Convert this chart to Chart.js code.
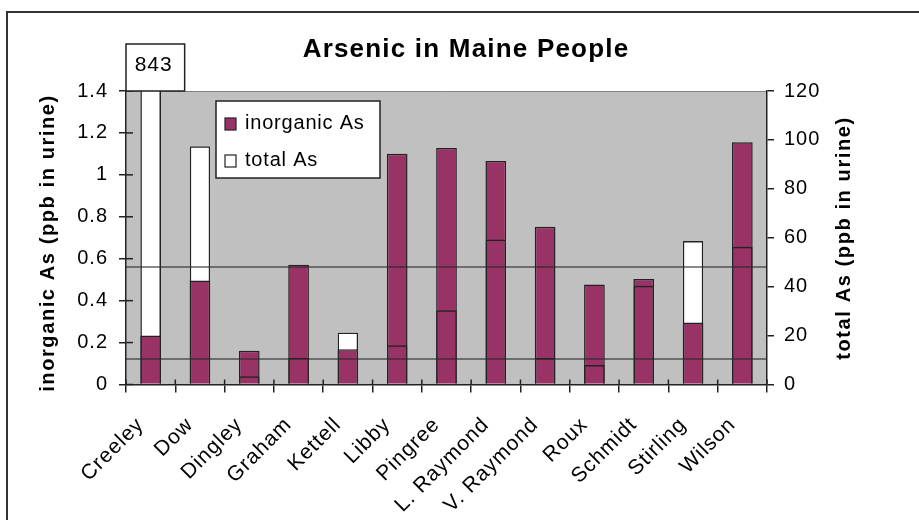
<!DOCTYPE html>
<html>
<head>
<meta charset="utf-8">
<script src="https://cdn.jsdelivr.net/npm/chart.js@4.4.1/dist/chart.umd.min.js"></script>
<style>
  html, body { margin: 0; padding: 0; background: #fff; overflow: hidden; }
  #wrap { position: relative; width: 919px; height: 520px; }
  #frame { position: absolute; left: 6px; top: 11px; width: 940px; height: 540px; border: 2px solid #333; }
  canvas { position: absolute; left: 0; top: 0; }
</style>
</head>
<body>
<div id="wrap">
  <div id="frame"></div>
  <canvas id="chart" width="919" height="520"></canvas>
</div>
<script>
// data
const people = ["Creeley", "Dow", "Dingley", "Graham", "Kettell", "Libby", "Pingree",
  "L. Raymond", "V. Raymond", "Roux", "Schmidt", "Stirling", "Wilson"];
const inorganicAs = [0.234, 0.496, 0.161, 0.571, 0.168, 1.101, 1.128, 1.066, 0.752, 0.477, 0.503, 0.296, 1.155];
const totalAs = [843, 97.4, 3.4, 10.9, 21.3, 16.0, 30.4, 59.3, 10.8, 8.0, 40.4, 58.7, 56.3];
const refLines = [0.56, 0.12]; // on the inorganic axis
const offScaleLabel = "843";   // Creeley's total, drawn above the plot

const FONT = "'Liberation Sans', Arial, sans-serif";
const PURPLE = "#993366";
const INK = "#222";

function spacedText(ctx, txt, x, y, spacing) {
  ctx.letterSpacing = spacing + "px";
  ctx.fillText(txt, x, y);
  ctx.letterSpacing = "0px";
}

// grey plot area, reference lines, titles, legend, the 843 box
const decor = {
  id: "decor",
  beforeDraw(chart) {
    const { ctx, chartArea: a } = chart;
    ctx.save();
    ctx.fillStyle = "#c0c0c0";
    ctx.fillRect(a.left, a.top, a.right - a.left, a.bottom - a.top);
    ctx.strokeStyle = "#808080";
    ctx.lineWidth = 1;
    ctx.beginPath();
    ctx.moveTo(a.left, a.top + 0.5);
    ctx.lineTo(a.right, a.top + 0.5);
    ctx.stroke();
    ctx.restore();
    // wider letters for the tick labels, like the original
    ctx.letterSpacing = "1px";
  },
  beforeDatasetsDraw(chart) {
    chart.ctx.letterSpacing = "0px";
  },
  afterDatasetsDraw(chart) {
    const { ctx, chartArea: a, scales } = chart;
    ctx.save();
    // reference lines on top of bars
    ctx.strokeStyle = "rgba(40,40,40,0.55)";
    ctx.lineWidth = 2;
    refLines.forEach((v) => {
      const y = Math.round(scales.y.getPixelForValue(v));
      ctx.beginPath();
      ctx.moveTo(a.left, y);
      ctx.lineTo(a.right, y);
      ctx.stroke();
    });

    // ticks crossing into the plot
    ctx.strokeStyle = INK;
    ctx.lineWidth = 1.5;
    scales.y.ticks.forEach((t, i) => {
      const y = scales.y.getPixelForTick(i);
      ctx.beginPath();
      ctx.moveTo(a.left, y);
      ctx.lineTo(a.left + 7, y);
      ctx.stroke();
    });
    for (let i = 0; i <= people.length; i++) {
      const x = scales.x.left + (scales.x.width * i) / people.length;
      ctx.beginPath();
      ctx.moveTo(x, a.bottom);
      ctx.lineTo(x, a.bottom - 5);
      ctx.stroke();
    }

    // 843 box above Creeley
    const cx = scales.x.getPixelForValue(0);
    ctx.fillStyle = "#fff";
    ctx.fillRect(a.left, 44, cx + 34 - a.left, a.top - 44);
    ctx.strokeStyle = INK;
    ctx.lineWidth = 1.5;
    ctx.strokeRect(a.left, 44, cx + 34 - a.left, a.top - 44);
    ctx.fillStyle = "#000";
    ctx.font = "21px " + FONT;
    ctx.textAlign = "center";
    ctx.textBaseline = "middle";
    spacedText(ctx, offScaleLabel, cx + 3, 65, 1);

    // legend
    const lx = a.left + 90, ly = a.top + 10;
    ctx.fillStyle = "#fff";
    ctx.fillRect(lx, ly, 164, 77);
    ctx.strokeStyle = INK;
    ctx.lineWidth = 1.5;
    ctx.strokeRect(lx, ly, 164, 77);
    const items = [chart.data.datasets[1], chart.data.datasets[0]];
    items.forEach((ds, i) => {
      const ry = ly + 17 + i * 37;
      ctx.fillStyle = ds.backgroundColor;
      ctx.fillRect(lx + 9, ry, 11, 12);
      ctx.lineWidth = 1.2;
      ctx.strokeRect(lx + 9, ry, 11, 12);
      ctx.fillStyle = "#000";
      ctx.font = "20px " + FONT;
      ctx.textAlign = "left";
      ctx.textBaseline = "alphabetic";
      spacedText(ctx, ds.label, lx + 29, ry + 11, 0.8);
    });

    // chart title and axis titles
    ctx.fillStyle = "#000";
    ctx.font = "bold 26px " + FONT;
    ctx.textAlign = "center";
    ctx.textBaseline = "alphabetic";
    spacedText(ctx, "Arsenic in Maine People", 466, 57, 1.2);

    ctx.font = "bold 20px " + FONT;
    ctx.textBaseline = "middle";
    ctx.save();
    ctx.translate(48, 243);
    ctx.rotate(-Math.PI / 2);
    spacedText(ctx, "inorganic As (ppb in urine)", 0, 0, 1.6);
    ctx.restore();
    ctx.save();
    ctx.translate(844, 238);
    ctx.rotate(-Math.PI / 2);
    spacedText(ctx, "total As (ppb in urine)", 0, 0, 1.6);
    ctx.restore();

    ctx.restore();
  },
};

const tickFont = { family: FONT, size: 20 };

new Chart(document.getElementById("chart"), {
  type: "bar",
  data: {
    labels: people,
    datasets: [
      {
        label: "total As",
        data: totalAs,
        yAxisID: "y1",
        backgroundColor: "#ffffff",
        borderWidth: 0,
        grouped: false,
        clip: 0,
        order: 3,
      },
      {
        label: "inorganic As",
        data: inorganicAs,
        yAxisID: "y",
        backgroundColor: PURPLE,
        borderColor: INK,
        borderWidth: 1.5,
        grouped: false,
        order: 2,
      },
      {
        label: "total As outline",
        data: totalAs,
        yAxisID: "y1",
        backgroundColor: "rgba(0,0,0,0)",
        borderColor: INK,
        borderWidth: 1.5,
        grouped: false,
        clip: 0,
        order: 1,
      },
    ],
  },
  options: {
    responsive: false,
    animation: false,
    layout: { padding: { top: 91, left: 0, right: 0, bottom: 0 } },
    datasets: { bar: { categoryPercentage: 1, barPercentage: 0.42 } },
    plugins: { legend: { display: false }, tooltip: { enabled: false }, title: { display: false } },
    scales: {
      x: {
        offset: true,
        grid: { offset: true, drawOnChartArea: false, tickLength: 8, color: INK, lineWidth: 1.5 },
        border: { color: INK, width: 1.5 },
        ticks: { font: { family: FONT, size: 21 }, color: "#000", minRotation: 45, maxRotation: 45,
          padding: 20, labelOffset: -10, autoSkip: false },
        afterFit: (s) => { s.height = 135.5; },
      },
      y: {
        position: "left",
        min: 0,
        max: 1.4,
        grid: { drawOnChartArea: false, tickLength: 7, color: INK, lineWidth: 1.5 },
        border: { color: INK, width: 1.5 },
        ticks: { stepSize: 0.2, font: tickFont, color: "#000", padding: 11,
          callback: (v) => String(+v.toFixed(1)) },
        afterFit: (s) => { s.width = 126; },
      },
      y1: {
        position: "right",
        min: 0,
        max: 120,
        grid: { drawOnChartArea: false, tickLength: 7, color: INK, lineWidth: 1.5 },
        border: { color: INK, width: 1.5 },
        ticks: { stepSize: 20, font: tickFont, color: "#000", padding: 10 },
        afterFit: (s) => { s.width = 152; },
      },
    },
  },
  plugins: [decor],
});
</script>
</body>
</html>
